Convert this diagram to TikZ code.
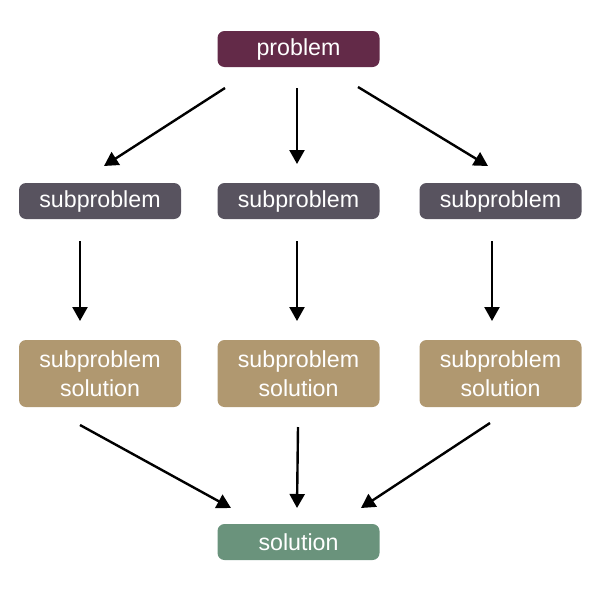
\documentclass[tikz,border=0pt]{standalone}
\usepackage{fontspec}
\setmainfont{Liberation Sans}
\usetikzlibrary{arrows.meta}
\definecolor{probc}{HTML}{632A48}
\definecolor{subc}{HTML}{58535F}
\definecolor{solc}{HTML}{B09870}
\definecolor{finc}{HTML}{6A937C}
\tikzset{
  box/.style={rounded corners=7pt, minimum width=162pt, text=white, font=\fontsize{23.2}{29.5}\selectfont, align=center, inner sep=0pt},
  short/.style={box, minimum height=36pt},
  tall/.style={box, minimum height=67pt},
  arr/.style={line width=2.4pt, -{Triangle[length=14pt,width=15pt]}}
}
\begin{document}
\begin{tikzpicture}[x=1pt,y=-1pt]
\useasboundingbox (0,0) rectangle (600,600);
\node[short, fill=probc] (p) at (298.5,49) {problem};
\node[short, fill=subc] (s1) at (100,201) {subproblem};
\node[short, fill=subc] (s2) at (298.5,201) {subproblem};
\node[short, fill=subc] (s3) at (500.5,201) {subproblem};
\node[tall, fill=solc] (t1) at (100,373.5) {subproblem\\solution};
\node[tall, fill=solc] (t2) at (298.5,373.5) {subproblem\\solution};
\node[tall, fill=solc] (t3) at (500.5,373.5) {subproblem\\solution};
\node[short, fill=finc] (f) at (298.5,542) {solution};
\coordinate (a1) at (225,88);  \coordinate (b1) at (104,166);
\coordinate (a2) at (297,88);  \coordinate (b2) at (297,164);
\coordinate (a3) at (358,87);  \coordinate (b3) at (488,166);
\coordinate (c1) at (80,241);  \coordinate (d1) at (80,321);
\coordinate (c2) at (297,241); \coordinate (d2) at (297,321);
\coordinate (c3) at (492,241); \coordinate (d3) at (492,321);
\coordinate (e1) at (80,425);  \coordinate (g1) at (231,508);
\coordinate (e2) at (298,427); \coordinate (g2) at (297,508);
\coordinate (e3) at (490,423); \coordinate (g3) at (361,508);
\foreach \u/\v in {a1/b1,a2/b2,a3/b3,c1/d1,c2/d2,c3/d3,e1/g1,e2/g2,e3/g3}
  \draw[arr] (\u) -- (\v);
\end{tikzpicture}
\end{document}
